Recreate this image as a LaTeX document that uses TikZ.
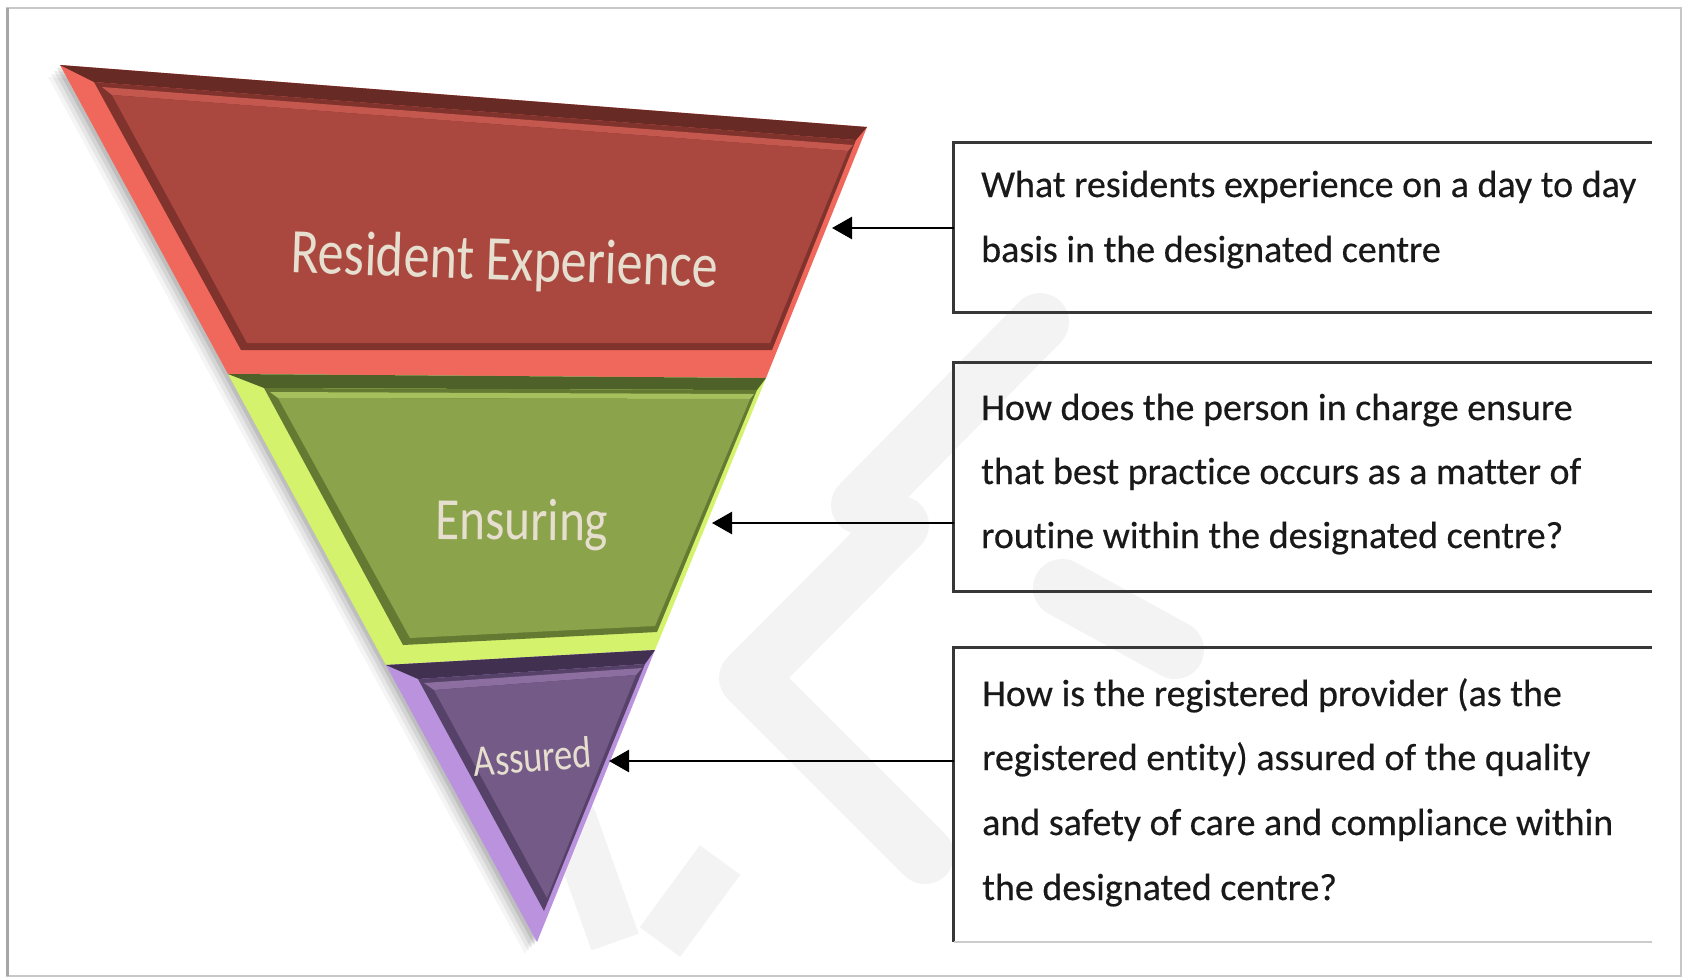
\documentclass[tikz,border=0pt]{standalone}
\usepackage{fontspec}
\setmainfont{Carlito}[Ligatures=NoCommon]
\newfontfamily\qfont[Ligatures=NoCommon, FakeBold=0.4]{Carlito}
\newfontfamily\lblfont[FakeStretch=0.82, Ligatures=NoCommon]{Carlito}
\usetikzlibrary{arrows.meta,calc}
\definecolor{redface}{RGB}{170,72,64}
\definecolor{redrim}{RGB}{240,104,92}
\definecolor{reddark}{RGB}{104,42,37}
\definecolor{redgroove}{RGB}{128,50,44}
\definecolor{redlight}{RGB}{196,88,78}
\definecolor{grnface}{RGB}{139,163,75}
\definecolor{grnrim}{RGB}{212,242,108}
\definecolor{grndark}{RGB}{78,97,40}
\definecolor{grngroove}{RGB}{100,122,50}
\definecolor{grnlight}{RGB}{165,192,92}
\definecolor{purface}{RGB}{116,90,134}
\definecolor{purrim}{RGB}{186,146,222}
\definecolor{purdark}{RGB}{66,48,80}
\definecolor{purgroove}{RGB}{86,66,104}
\definecolor{purlight}{RGB}{140,110,160}
\definecolor{labeltext}{RGB}{230,222,206}
\definecolor{boxline}{RGB}{55,55,55}
\definecolor{wmark}{RGB}{243,243,243}
\tikzset{
  lbl/.style={text=labeltext, inner sep=0pt, anchor=base},
  boxnode/.style={inner sep=0pt, minimum width=698pt},
  boxedge/.style={draw=boxline, line width=3pt},
  qtext/.style={anchor=base west, inner sep=0pt, font=\qfont\fontsize{38}{46}\selectfont, text=black!90},
  arr/.style={draw=black, line width=2.6pt, -{Triangle[length=20pt,width=22pt]}},
  wm/.style={draw=wmark, line width=58pt, line cap=round, line join=round}
}
\begin{document}
\begin{tikzpicture}[x=1pt,y=-1pt]
\useasboundingbox (0,0) rectangle (1683,978);
\fill[white] (0,0) rectangle (1683,978);
% frame
\draw[black!22, line width=2pt] (7,8) rectangle (1681,976);
\draw[black!35, line width=3pt] (7,8) -- (7,976);

% watermark
\draw[wm] (860,505) -- (1040,322);
\draw[wm] (900,525) -- (748,678) -- (925,855);
\draw[wm] (1062,588) -- (1175,650);
\draw[wm, line width=50pt, line cap=butt] (570,815) -- (615,942);
\draw[wm, line width=50pt, line cap=butt] (660,942) -- (720,860);

% shadow of the funnel
\foreach \s/\o in {3/0.10,6/0.08,9/0.06,12/0.04}{
  \fill[black, opacity=\o] ($(60,65)+(-\s,\s)$) -- ($(867,127)+(-\s,\s)$) -- ($(537,942)+(-\s,\s)$) -- cycle;
}

% red layer
\fill[redrim] (60,65) -- (867,127) -- (766,378) -- (228,374) -- cycle;
\fill[reddark] (60,65) -- (867,127) -- (856,140) -- (94,82) -- cycle;
\fill[redgroove] (94,82) -- (856,140) -- (772,350) -- (241,350) -- cycle;
\fill[redlight] (102,87) -- (853,145) -- (848,151) -- (112,95) -- cycle;
\fill[redface] (112,95) -- (848,151) -- (770,343) -- (247,343) -- cycle;

% green layer
\fill[grnrim] (228,374) -- (766,378) -- (655,650) -- (386,665) -- cycle;
\fill[grndark] (228,374) -- (766,378) -- (757,390) -- (264,388) -- cycle;
\fill[grngroove] (264,388) -- (757,390) -- (657,632) -- (403,645) -- cycle;
\fill[grnlight] (270,392) -- (754,394) -- (750,399) -- (278,398) -- cycle;
\fill[grnface] (278,398) -- (750,399) -- (655,626) -- (410,638) -- cycle;

% purple layer
\fill[purrim] (386,665) -- (655,650) -- (537,942) -- cycle;
\fill[purdark] (386,665) -- (655,650) -- (645,664) -- (418,679) -- cycle;
\fill[purgroove] (418,679) -- (645,664) -- (544,911) -- cycle;
\fill[purlight] (424,683) -- (642,668) -- (636,675) -- (434,690) -- cycle;
\fill[purface] (434,690) -- (636,675) -- (547,898) -- cycle;

% labels
\node[lbl, font=\lblfont\fontsize{63.5}{70}\selectfont, rotate=-2] (l1) at (504,280) {Resident Experience};
\node[lbl, font=\lblfont\fontsize{60}{68}\selectfont, rotate=-0.5] (l2) at (522,540) {Ensuring};
\node[lbl, font=\lblfont\fontsize{44.5}{50}\selectfont, rotate=4.5] (l3) at (534,772) {Assured};

% boxes
\node[boxnode, minimum height=169pt] (b1) at (1303,227.5) {};
\node[boxnode, minimum height=228pt] (b2) at (1303,477) {};
\node[boxnode, minimum height=294pt] (b3) at (1303,795) {};
\draw[boxedge] (b1.north east) -- (b1.north west) -- (b1.south west) -- (b1.south east);
\draw[boxedge] (b2.north east) -- (b2.north west) -- (b2.south west) -- (b2.south east);
\draw[boxedge] (b3.north east) -- (b3.north west) -- (b3.south west);
\draw[black!20, line width=2pt] (b3.south west) -- (b3.south east);

% box texts
\node[qtext] (t11) at (981,197) {What residents experience on a day to day};
\node[qtext] (t12) at (981,262) {basis in the designated centre};
\node[qtext] (t21) at (981,420) {How does the person in charge ensure};
\node[qtext] (t22) at (981,484) {that best practice occurs as a matter of};
\node[qtext] (t23) at (981,548) {routine within the designated centre?};
\node[qtext] (t31) at (982,706) {How is the registered provider (as the};
\node[qtext] (t32) at (982,770) {registered entity) assured of the quality};
\node[qtext] (t33) at (982,835) {and safety of care and compliance within};
\node[qtext] (t34) at (982,900) {the designated centre?};

% arrows
\coordinate (p1) at (832,228);
\coordinate (p2) at (712,523);
\coordinate (p3) at (609,761);
\draw[arr] (b1.west |- p1) -- (p1);
\draw[arr] (b2.west |- p2) -- (p2);
\draw[arr] (b3.west |- p3) -- (p3);
\end{tikzpicture}
\end{document}
